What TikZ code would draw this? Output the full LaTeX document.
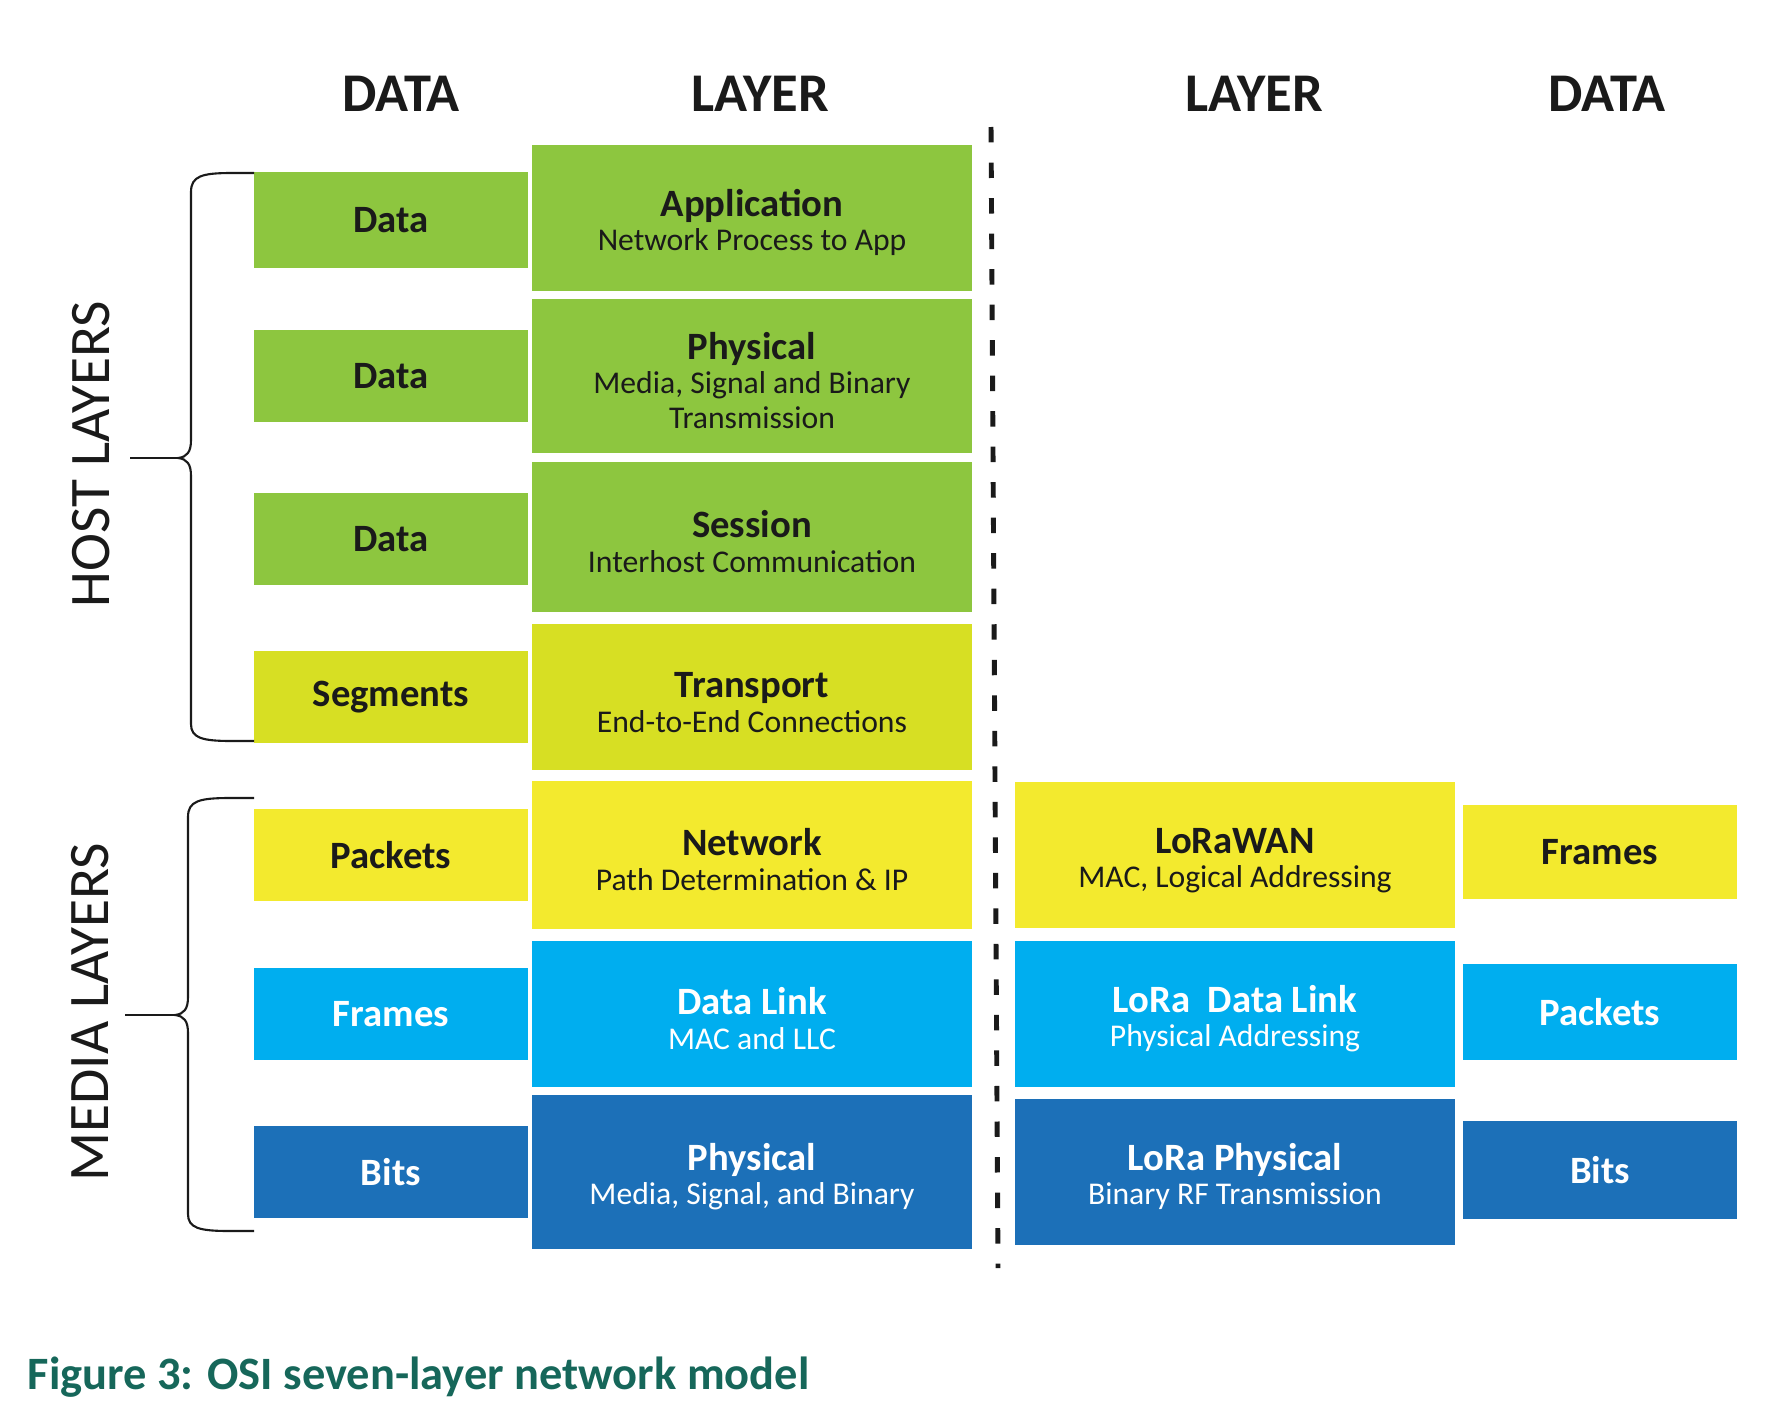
\documentclass[tikz,border=0pt]{standalone}
\usepackage{fontspec}
\setmainfont{Carlito}
\usepackage{tikz}

\definecolor{osigreen}{HTML}{8DC63F}
\definecolor{osilime}{HTML}{D7DF23}
\definecolor{osiyellow}{HTML}{F3EA2E}
\definecolor{osicyan}{HTML}{00AEEF}
\definecolor{osiblue}{HTML}{1C70B8}
\definecolor{inkdark}{HTML}{1A1A1A}
\definecolor{captionteal}{HTML}{16675A}

\newcommand{\ttl}{\fontsize{11}{9.8}\selectfont\bfseries\rule{0pt}{10.2pt}}

\begin{document}
\begin{tikzpicture}[x=0.01cm, y=-0.01cm,
    databox/.style={fill=#1, inner sep=0pt, minimum width=2.74cm, minimum height=0.92cm,
                    text=inkdark, font=\fontsize{11}{12}\selectfont\bfseries},
    layerbox/.style={fill=#1, inner sep=0pt, minimum width=4.40cm, minimum height=1.46cm,
                     align=center, text=inkdark, font=\fontsize{9}{9.8}\selectfont},
    header/.style={anchor=base, inner sep=0pt, text=inkdark, font=\fontsize{15.5}{16}\selectfont\bfseries},
    side/.style={anchor=base, rotate=90, inner sep=0pt, text=inkdark, font=\fontsize{16.3}{18}\selectfont},
    brace/.style={draw=inkdark, line width=0.6pt},
    divider/.style={draw=inkdark, line width=1.4pt, dash pattern=on 4.4pt off 5.7pt}]
    \useasboundingbox (0,0) rectangle (1792,1406);
    \fill[white] (0,0) rectangle (1792,1406);

    \node[header] (hdl) at (401,111) {DATA};
    \node[header] (hll) at (760,111) {LAYER};
    \node[header] (hlr) at (1254,111) {LAYER};
    \node[header] (hdr) at (1607,111) {DATA};

    \node[databox=osigreen, minimum height=0.96cm] (d7) at (391,220) {Data};
    \node[databox=osigreen] (d6) at (391,376) {Data};
    \node[databox=osigreen] (d5) at (391,539) {Data};
    \node[databox=osilime] (d4) at (391,697) {Segments};
    \node[databox=osiyellow] (d3) at (391,855) {Packets};
    \node[databox=osicyan, text=white] (d2) at (391,1014) {Frames};
    \node[databox=osiblue, text=white] (d1) at (391,1172) {Bits};

    \node[layerbox=osigreen] (l7) at (752,218) {{\ttl Application}\\Network Process to App};
    \node[layerbox=osigreen, minimum height=1.53cm] (l6) at (752,376) {{\ttl Physical}\\Media, Signal and Binary\\Transmission};
    \node[layerbox=osigreen, minimum height=1.50cm] (l5) at (752,537) {{\ttl Session}\\Interhost Communication};
    \node[layerbox=osilime] (l4) at (752,697) {{\ttl Transport}\\End-to-End Connections};
    \node[layerbox=osiyellow, minimum height=1.47cm] (l3) at (752,855) {{\ttl Network}\\Path Determination \& IP};
    \node[layerbox=osicyan, text=white] (l2) at (752,1014) {{\ttl Data Link}\\MAC and LLC};
    \node[layerbox=osiblue, text=white, minimum height=1.54cm] (l1) at (752,1172) {{\ttl Physical}\\Media, Signal, and Binary};

    \node[layerbox=osiyellow] (r3) at (1235,855) {{\ttl LoRaWAN}\\MAC, Logical Addressing};
    \node[layerbox=osicyan, text=white] (r2) at (1235,1014) {{\ttl LoRa~ Data Link}\\Physical Addressing};
    \node[layerbox=osiblue, text=white] (r1) at (1235,1172) {{\ttl LoRa Physical}\\Binary RF Transmission};

    \node[databox=osiyellow, minimum height=0.93cm] (e3) at (1600,852) {Frames};
    \node[databox=osicyan, text=white, minimum height=0.96cm] (e2) at (1600,1012) {Packets};
    \node[databox=osiblue, text=white, minimum height=0.97cm] (e1) at (1600,1170) {Bits};

    \draw[divider] (991,127) -- (998,1268);

    \draw[brace] (254,173) -- (232,173) .. controls (202,173) and (191,176) .. (191,192)
        -- (191,440) .. controls (191,452) and (187,457) .. (178,458)
        .. controls (187,459) and (191,464) .. (191,476)
        -- (191,724) .. controls (191,738) and (202,741) .. (232,741) -- (254,741);
    \draw[brace] (130,458) -- (178,458);
    \draw[brace] (254,798) -- (230,798) .. controls (199,798) and (188,801) .. (188,817)
        -- (188,997) .. controls (188,1009) and (184,1014) .. (175,1015)
        .. controls (184,1016) and (188,1021) .. (188,1033)
        -- (188,1214) .. controls (188,1228) and (199,1231) .. (230,1231) -- (254,1231);
    \draw[brace] (125,1015) -- (175,1015);

    \node[side] (host) at (109,454) {HOST LAYERS};
    \node[side] (media) at (108,1012) {MEDIA LAYERS};

    \node[anchor=base west, inner sep=0pt, text=captionteal, font=\fontsize{13.2}{15}\selectfont\bfseries] (cap) at (27,1389) {Figure 3: OSI seven-layer network model};
\end{tikzpicture}
\end{document}
